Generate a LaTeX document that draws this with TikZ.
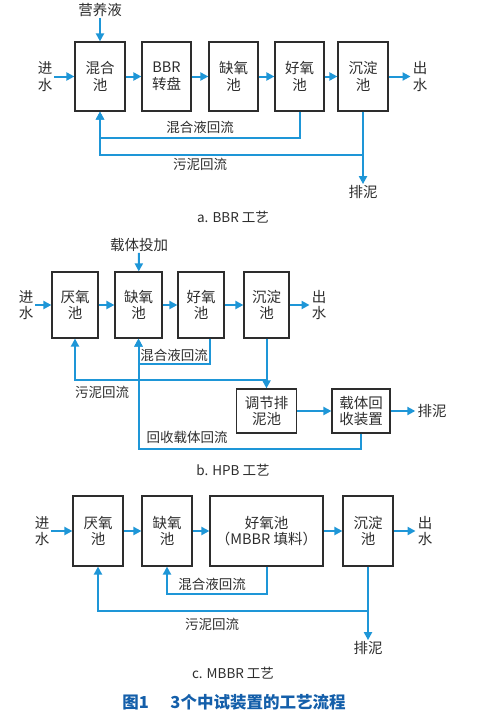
\documentclass[tikz,border=0pt]{standalone}
\usepackage{fontspec}
\setmainfont{Noto Sans CJK SC}
\usetikzlibrary{arrows.meta}
\definecolor{flowblue}{RGB}{30,150,215}
\definecolor{capblue}{RGB}{20,95,170}
\definecolor{boxgray}{RGB}{45,45,45}

\begin{document}
\begin{tikzpicture}[x=1pt,y=-1pt,
    pool/.style={draw=boxgray,line width=1.2pt,align=center,inner sep=0pt,
      font=\fontsize{14.5}{16.5}\selectfont,text=boxgray},
    flow/.style={draw=flowblue,line width=2pt,-{Triangle[length=8pt,width=8pt]}},
    io/.style={align=center,inner xsep=2pt,inner ysep=1pt,
      font=\fontsize{14.5}{16.5}\selectfont,text=boxgray},
    lbl/.style={font=\fontsize{13.5}{15}\selectfont,text=boxgray}]
  \useasboundingbox (0,0) rectangle (477,717);

  % a. BBR
  \node[pool,minimum width=50pt,minimum height=69pt] (mixA) at (100,76.5) {混合\\池};
  \node[pool,minimum width=49pt,minimum height=69pt] (bbrA) at (166.5,76.5) {BBR\\转盘};
  \node[pool,minimum width=49pt,minimum height=69pt] (queA) at (233.5,76.5) {缺氧\\池};
  \node[pool,minimum width=49pt,minimum height=69pt] (haoA) at (299.5,76.5) {好氧\\池};
  \node[pool,minimum width=50pt,minimum height=69pt] (chenA) at (363,76.5) {沉淀\\池};
  \node[io] (yyA) at (100,10) {营养液};
  \node[io] (inA) at (45,76.5) {进\\水};
  \node[io] (outA) at (420,76.5) {出\\水};
  \node[io] (pnA) at (363,192) {排泥};
  \draw[flow] (yyA) -- (mixA);
  \draw[flow] (inA) -- (mixA);
  \draw[flow] (mixA) -- (bbrA);
  \draw[flow] (bbrA) -- (queA);
  \draw[flow] (queA) -- (haoA);
  \draw[flow] (haoA) -- (chenA);
  \draw[flow] (chenA) -- (outA);
  \draw[flow] (haoA.south) -- ++(0,26) -| (mixA.south);
  \draw[flow] (chenA.south) ++(0,43) -| (mixA.south);
  \draw[flow] (chenA.south) -- (pnA);
  \node[lbl] (hlA) at (200,127) {混合液回流};
  \node[lbl] (wlA) at (200,164) {污泥回流};
  \node[lbl] (subA) at (233,217) {a. BBR 工艺};

  % b. HPB
  \node[pool,minimum width=46pt,minimum height=66pt] (yanB) at (75,305) {厌氧\\池};
  \node[pool,minimum width=47pt,minimum height=66pt] (queB) at (138.5,305) {缺氧\\池};
  \node[pool,minimum width=46pt,minimum height=66pt] (haoB) at (201,305) {好氧\\池};
  \node[pool,minimum width=45pt,minimum height=66pt] (chenB) at (266.5,305) {沉淀\\池};
  \node[pool,minimum width=60pt,minimum height=44pt] (tiaoB) at (266.5,411) {调节排\\泥池};
  \node[pool,minimum width=58pt,minimum height=44pt] (zaiB) at (361,411) {载体回\\收装置};
  \node[io] (ztB) at (139,245) {载体投加};
  \node[io] (inB) at (26,305) {进\\水};
  \node[io] (outB) at (319,305) {出\\水};
  \node[io] (pnB) at (432,411) {排泥};
  \draw[flow] (ztB) -- (queB);
  \draw[flow] (inB) -- (yanB);
  \draw[flow] (yanB) -- (queB);
  \draw[flow] (queB) -- (haoB);
  \draw[flow] (haoB) -- (chenB);
  \draw[flow] (chenB) -- (outB);
  \draw[flow] ([xshift=9pt]haoB.south) -- ++(0,25) -| (queB.south);
  \draw[flow] (zaiB.south) -- ++(0,15) -| (queB.south);
  \draw[flow] (chenB.south) -- (tiaoB.north);
  \draw[flow] (chenB.south) ++(0,41) -| (yanB.south);
  \draw[flow] (tiaoB) -- (zaiB);
  \draw[flow] (zaiB) -- (pnB);
  \node[lbl] (hlB) at (174,355) {混合液回流};
  \node[lbl] (wlB) at (102,392) {污泥回流};
  \node[lbl] (zlB) at (187,437) {回收载体回流};
  \node[lbl] (subB) at (233,470) {b. HPB 工艺};

  % c. MBBR
  \node[pool,minimum width=50pt,minimum height=70pt] (yanC) at (98,531) {厌氧\\池};
  \node[pool,minimum width=50pt,minimum height=70pt] (queC) at (167,531) {缺氧\\池};
  \node[pool,minimum width=113pt,minimum height=70pt] (haoC) at (266.5,531) {好氧池\\（MBBR 填料）};
  \node[pool,minimum width=50pt,minimum height=70pt] (chenC) at (368,531) {沉淀\\池};
  \node[io] (inC) at (42,531) {进\\水};
  \node[io] (outC) at (425,531) {出\\水};
  \node[io] (pnC) at (368,648) {排泥};
  \draw[flow] (inC) -- (yanC);
  \draw[flow] (yanC) -- (queC);
  \draw[flow] (queC) -- (haoC);
  \draw[flow] (haoC) -- (chenC);
  \draw[flow] (chenC) -- (outC);
  \draw[flow] (haoC.south) -- ++(0,27) -| (queC.south);
  \draw[flow] (chenC.south) ++(0,44) -| (yanC.south);
  \draw[flow] (chenC.south) -- (pnC);
  \node[lbl] (hlC) at (212,584) {混合液回流};
  \node[lbl] (wlC) at (212,624) {污泥回流};
  \node[lbl] (subC) at (233,673) {c. MBBR 工艺};

  \node[font=\fontsize{16.5}{18}\selectfont\bfseries,text=capblue] (capFig) at (234,702)
    {图1\hspace{1.3em}3个中试装置的工艺流程};
\end{tikzpicture}
\end{document}
